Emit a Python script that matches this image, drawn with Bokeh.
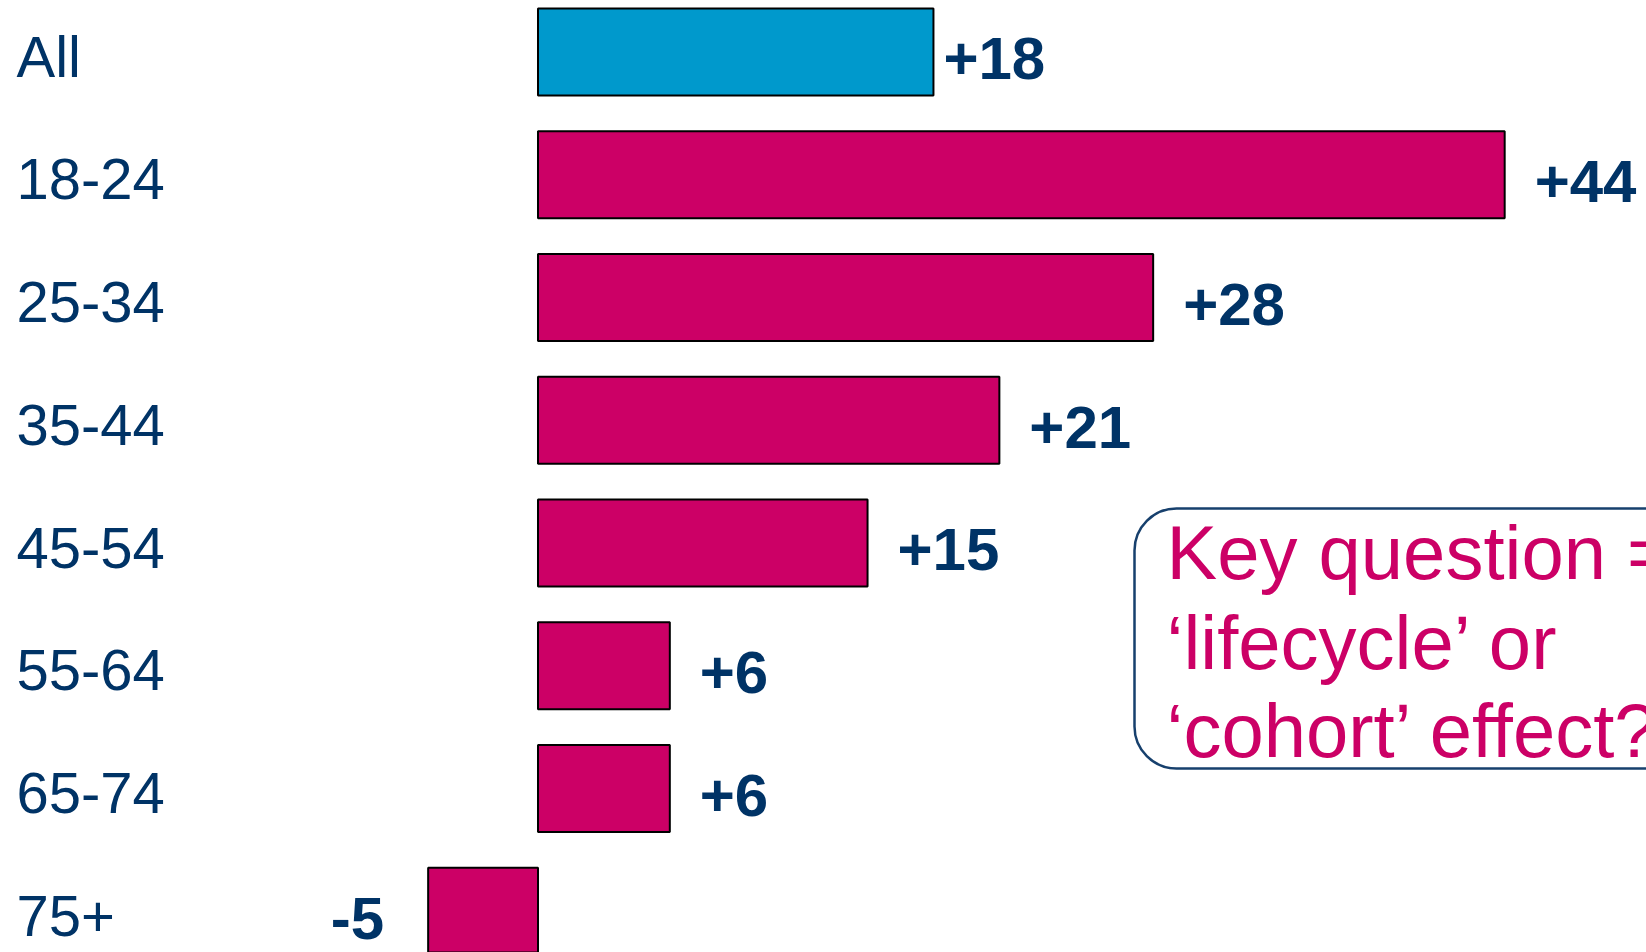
from bokeh.plotting import figure
from bokeh.models import ColumnDataSource, Range1d, BoxAnnotation
from bokeh.core.properties import value
from bokeh.embed import file_html
from bokeh.resources import INLINE

# ---- data ----
categories = ["All", "18-24", "25-34", "35-44", "45-54", "55-64", "65-74", "75+"]
changes = [18, 44, 28, 21, 15, 6, 6, -5]
note_lines = ["Key question =", "\u2018lifecycle\u2019 or", "\u2018cohort\u2019 effect?"]

# ---- styles ----
ALL_COLOR = "#0099CC"
AGE_COLOR = "#CC0066"
NAVY = "#003366"
FONT = "Liberation Sans"
CAT_SIZE, VAL_SIZE, NOTE_SIZE = 58, 60, 76
BASELINE_FIX = 0.37  # renderer places alphabetic baseline ~0.37em lower

# ---- layout (pixels) ----
W, H = 1646, 952
ROW_PX = 122.75
FIRST_ROW_PX = 51.5
UNIT_PX = 21.97
ZERO_PX = 537.5


def px_to_y(py):
    return (py - FIRST_ROW_PX) / ROW_PX


def px_to_x(px):
    return (px - ZERO_PX) / UNIT_PX


rows = list(range(len(categories)))
colors = [ALL_COLOR if c == "All" else AGE_COLOR for c in categories]
labels = [f"{v:+d}" for v in changes]
src = ColumnDataSource(dict(
    y=rows,
    cat=categories,
    val=changes,
    color=colors,
    label=labels,
    label_y=[r + (29 - BASELINE_FIX * VAL_SIZE) / ROW_PX for r in rows],
    cat_y=[r + (26 - BASELINE_FIX * CAT_SIZE) / ROW_PX for r in rows],
    dx=[(10 if c == "All" else 30) if v >= 0 else -44
        for c, v in zip(categories, changes)],
    align=["left" if v >= 0 else "right" for v in changes],
))

p = figure(width=W, height=H, output_backend="svg", toolbar_location=None,
           x_range=Range1d(px_to_x(0), px_to_x(W)),
           y_range=Range1d(px_to_y(H), px_to_y(0)),
           min_border=0, x_axis_location=None, y_axis_location=None)
p.grid.visible = False
p.outline_line_color = None
p.background_fill_color = "white"
p.border_fill_color = "white"

p.hbar(y="y", left=0, right="val", height=0.709, fill_color="color",
       line_color="black", line_width=2, source=src)

p.text(x="val", y="label_y", text="label", x_offset="dx", text_align="align",
       text_baseline="alphabetic", text_font=value(FONT), text_font_style="bold",
       text_font_size=f"{VAL_SIZE}px", text_color=NAVY, source=src)

p.text(x=px_to_x(16), y="cat_y", text="cat", text_align="left",
       text_baseline="alphabetic", text_font=value(FONT),
       text_font_size=f"{CAT_SIZE}px", text_color=NAVY, source=src)

box = BoxAnnotation(left=px_to_x(1134), right=px_to_x(1740),
                    top=px_to_y(508), bottom=px_to_y(768),
                    fill_color=None, line_color="#17406D", line_alpha=1.0,
                    line_width=2.5, border_radius=42)
p.add_layout(box)

note_base = [580, 670, 758]
p.text(x=[px_to_x(1166)] * 3,
       y=[px_to_y(b - BASELINE_FIX * NOTE_SIZE) for b in note_base],
       text=note_lines, text_align="left", text_baseline="alphabetic",
       text_font=value(FONT), text_font_size=f"{NOTE_SIZE}px", text_color=AGE_COLOR)

open("out.html", "w").write(file_html(p, INLINE))
